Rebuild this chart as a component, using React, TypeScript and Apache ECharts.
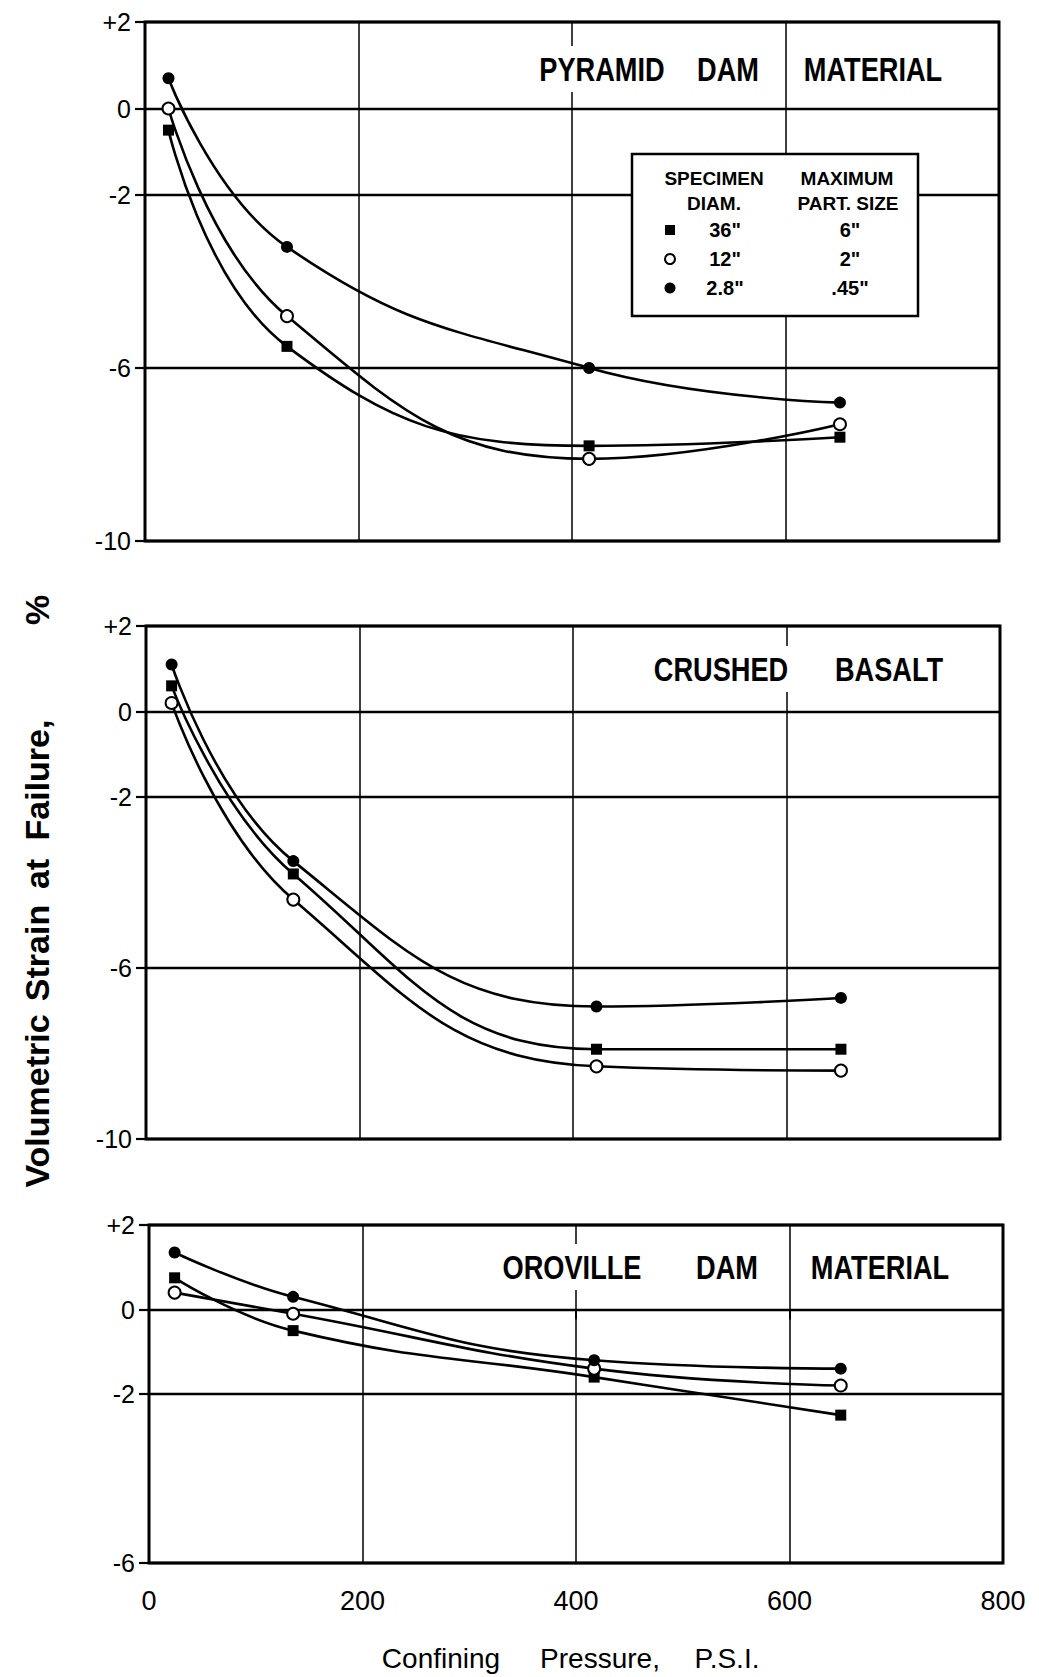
import React, { useEffect, useRef } from 'react';
import * as echarts from 'echarts';

// ---- data ----
const xTicks = [0, 200, 400, 600, 800];
const yTicksTall = [2, 0, -2, -6, -10];
const yTicksShort = [2, 0, -2, -6];

const pyramidPressure = [22, 133, 416, 651];
const pyramid36 = [-0.5, -5.5, -7.8, -7.6];
const pyramid12 = [0.0, -4.8, -8.1, -7.3];
const pyramid28 = [0.7, -3.2, -6.0, -6.8];

const basaltPressure = [24, 138, 422, 651];
const basalt36 = [0.6, -3.8, -7.9, -7.9];
const basalt12 = [0.2, -4.4, -8.3, -8.4];
const basalt28 = [1.1, -3.5, -6.9, -6.7];

const orovillePressure = [24, 135, 417, 648];
const oroville36 = [0.75, -0.5, -1.6, -2.5];
const oroville12 = [0.4, -0.1, -1.4, -1.8];
const oroville28 = [1.35, 0.3, -1.2, -1.4];

const legendDiam = ['36"', '12"', '2.8"'];
const legendSize = ['6"', '2"', '.45"'];

const fmtY = (v: number) => (v > 0 ? '+' + v : String(v));

export default function App() {
  const ref = useRef<HTMLDivElement>(null);
  useEffect(() => {
    if (!ref.current) return;
    const chart = echarts.init(ref.current, null, { renderer: 'svg' });

    const grids = [
      { left: 145, top: 22, width: 854, height: 519 },
      { left: 146, top: 626, width: 854, height: 513 },
      { left: 149, top: 1225, width: 854, height: 338 },
    ];
    const yRanges = [
      { min: -10, max: 2, ticks: yTicksTall },
      { min: -10, max: 2, ticks: yTicksTall },
      { min: -6, max: 2, ticks: yTicksShort },
    ];

    const xAxis = grids.map((_, i) => {
      const bottom = i === 2;
      return {
        type: 'value',
        gridIndex: i,
        min: xTicks[0],
        max: xTicks[xTicks.length - 1],
        interval: 200,
        axisLine: { show: false },
        axisTick: { show: bottom, length: 10, lineStyle: { color: '#000', width: 2 } },
        axisLabel: {
          show: bottom,
          margin: 24,
          fontSize: 27,
          fontFamily: 'Liberation Sans',
          color: '#000',
        },
        splitLine: { show: true, lineStyle: { color: '#000', width: 1.5 } },
      };
    });

    const yAxis = yRanges.map((r, i) => ({
      type: 'value',
      gridIndex: i,
      min: r.min,
      max: r.max,
      interval: 2,
      axisLine: { show: false },
      axisTick: {
        show: true,
        customValues: r.ticks,
        length: 10,
        lineStyle: { color: '#000', width: 2.2 },
      },
      axisLabel: {
        customValues: r.ticks,
        formatter: (v: number) => (r.ticks.includes(v) ? fmtY(v) : ''),
        fontSize: 25,
        fontFamily: 'Liberation Sans',
        color: '#000',
        margin: 14,
      },
      splitLine: { show: false },
    }));

    const kinds: any = {
      square: { symbol: 'rect', symbolSize: 11, itemStyle: { color: '#000' } },
      open: {
        symbol: 'circle',
        symbolSize: 12,
        itemStyle: { color: '#fff', borderColor: '#000', borderWidth: 2 },
      },
      filled: { symbol: 'circle', symbolSize: 12, itemStyle: { color: '#000' } },
    };

    const mk = (name: string, gi: number, xs: number[], ys: number[], kind: string, ticks?: number[]) => {
      const s: any = {
        name,
        type: 'line',
        xAxisIndex: gi,
        yAxisIndex: gi,
        data: xs.map((x, k) => [x, ys[k]]),
        smooth: 0.45,
        showAllSymbol: true,
        lineStyle: { color: '#000', width: 2.6 },
        z: 5,
        ...kinds[kind],
      };
      if (ticks) {
        s.markLine = {
          silent: true,
          symbol: ['none', 'none'],
          label: { show: false },
          lineStyle: { color: '#000', width: 2.4, type: 'solid' },
          emphasis: { disabled: true },
          data: ticks.map((v) => ({ yAxis: v })),
          z: 1,
        };
      }
      return s;
    };

    const series = [
      mk('36" pyramid', 0, pyramidPressure, pyramid36, 'square', yTicksTall),
      mk('12" pyramid', 0, pyramidPressure, pyramid12, 'open'),
      mk('2.8" pyramid', 0, pyramidPressure, pyramid28, 'filled'),
      mk('36" basalt', 1, basaltPressure, basalt36, 'square', yTicksTall),
      mk('12" basalt', 1, basaltPressure, basalt12, 'open'),
      mk('2.8" basalt', 1, basaltPressure, basalt28, 'filled'),
      mk('36" oroville', 2, orovillePressure, oroville36, 'square', yTicksShort),
      mk('12" oroville', 2, orovillePressure, oroville12, 'open'),
      mk('2.8" oroville', 2, orovillePressure, oroville28, 'filled'),
    ];

    const titleText = (text: string, x: number, y: number) => ({
      type: 'text',
      x,
      y,
      scaleX: 0.8,
      z: 100,
      style: {
        text,
        fontSize: 34,
        fontWeight: 'bold',
        fontFamily: 'Liberation Sans',
        fill: '#000',
        align: 'center',
        verticalAlign: 'middle',
        textAlign: 'center',
        textVerticalAlign: 'middle',
        backgroundColor: '#fff',
        padding: [6, 6],
      },
    });

    const plainText = (text: string, x: number, y: number, size: number, family: string, weight = 'normal', rotation = 0) => ({
      type: 'text',
      x,
      y,
      rotation,
      z: 101,
      style: {
        text,
        fontSize: size,
        fontWeight: weight,
        fontFamily: family,
        fill: '#000',
        align: 'center',
        verticalAlign: 'middle',
        textAlign: 'center',
        textVerticalAlign: 'middle',
      },
    });

    const legendRows = [230, 259, 288];
    const graphic: any[] = [
      titleText('PYRAMID', 602, 69),
      titleText('DAM', 728, 69),
      titleText('MATERIAL', 873, 69),
      titleText('CRUSHED', 721, 669),
      titleText('BASALT', 889, 669),
      titleText('OROVILLE', 572, 1267),
      titleText('DAM', 727, 1267),
      titleText('MATERIAL', 880, 1267),
      {
        type: 'rect',
        z: 100,
        shape: { x: 632, y: 154, width: 286, height: 162 },
        style: { fill: '#fff', stroke: '#000', lineWidth: 2.5 },
      },
      plainText('SPECIMEN', 714, 178, 19, 'Liberation Sans', 'bold'),
      plainText('DIAM.', 714, 203, 19, 'Liberation Sans', 'bold'),
      plainText('MAXIMUM', 847, 178, 19, 'Liberation Sans', 'bold'),
      plainText('PART. SIZE', 848, 203, 19, 'Liberation Sans', 'bold'),
      {
        type: 'rect',
        z: 101,
        shape: { x: 665, y: legendRows[0] - 5, width: 10, height: 10 },
        style: { fill: '#000' },
      },
      {
        type: 'circle',
        z: 101,
        shape: { cx: 670, cy: legendRows[1], r: 5 },
        style: { fill: '#fff', stroke: '#000', lineWidth: 2 },
      },
      {
        type: 'circle',
        z: 101,
        shape: { cx: 670, cy: legendRows[2], r: 5.5 },
        style: { fill: '#000' },
      },
      ...legendDiam.map((t, i) => plainText(t, 725, legendRows[i], 20, 'Liberation Sans', 'bold')),
      ...legendSize.map((t, i) => plainText(t, 850, legendRows[i], 20, 'Liberation Sans', 'bold')),
      plainText('Volumetric', 37, 1101, 34, 'Liberation Sans', 'bold', Math.PI / 2),
      plainText('Strain', 37, 953, 34, 'Liberation Sans', 'bold', Math.PI / 2),
      plainText('at', 37, 874, 34, 'Liberation Sans', 'bold', Math.PI / 2),
      plainText('Failure,', 37, 780, 34, 'Liberation Sans', 'bold', Math.PI / 2),
      plainText('%', 37, 610, 34, 'Liberation Sans', 'bold', Math.PI / 2),
      plainText('Confining', 441, 1658, 28, 'Liberation Sans'),
      plainText('Pressure,', 600, 1658, 28, 'Liberation Sans'),
      plainText('P.S.I.', 727, 1658, 28, 'Liberation Sans'),
    ];

    chart.setOption({
      animation: false,
      backgroundColor: '#fff',
      grid: grids.map((g) => ({
        ...g,
        show: true,
        borderColor: '#000',
        borderWidth: 3,
        backgroundColor: 'transparent',
      })),
      xAxis,
      yAxis,
      series,
      graphic,
    } as any);

    return () => chart.dispose();
  }, []);

  return (
    <div
      ref={ref}
      style={{ position: 'absolute', left: 0, top: 0, width: 1039, height: 1677, background: '#fff' }}
    />
  );
}
